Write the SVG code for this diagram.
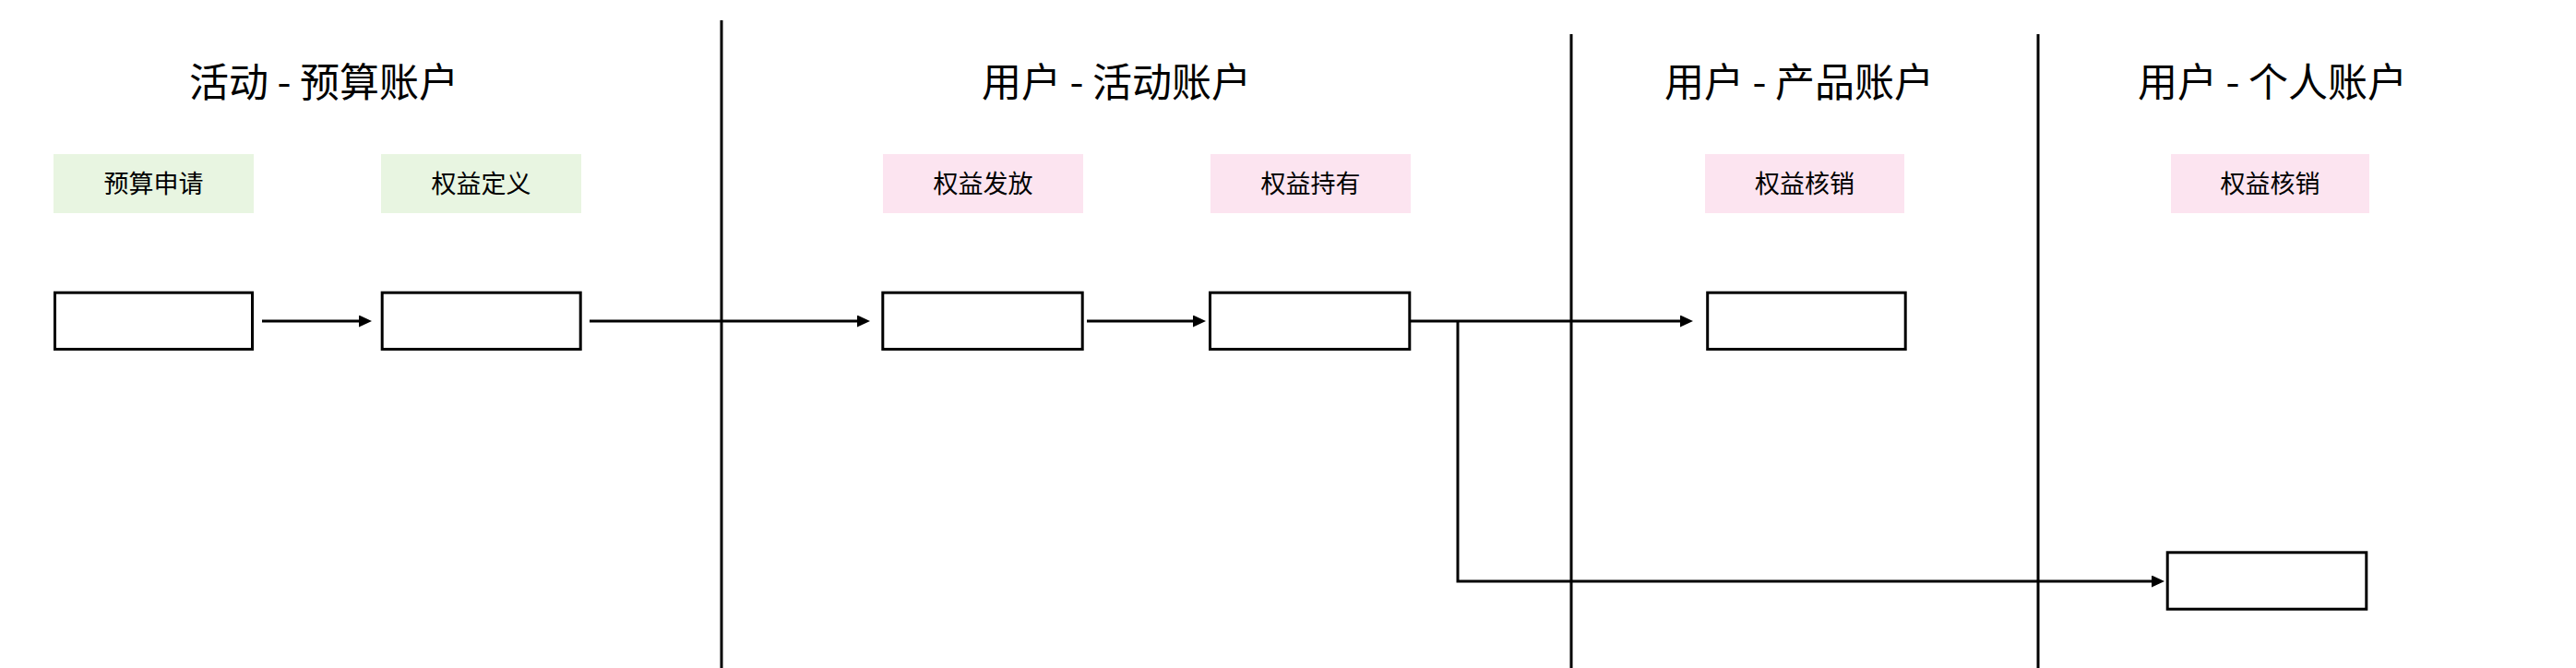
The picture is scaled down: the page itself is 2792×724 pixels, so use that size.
<svg xmlns="http://www.w3.org/2000/svg" width="2792" height="724" viewBox="0 0 2792 724">
<style>
.title{font-family:"Noto Sans CJK SC","Noto Sans",sans-serif;font-size:43px;fill:#000;text-anchor:middle;dominant-baseline:central}
.lbl{font-family:"Noto Sans CJK SC","Noto Sans",sans-serif;font-size:27px;fill:#000;text-anchor:middle;dominant-baseline:central}
.green{fill:#e8f5e1}
.pink{fill:#fce4f0}
.box{fill:#fff;stroke:#000;stroke-width:3}
.sep{stroke:#000;stroke-width:3}
.conn{fill:none;stroke:#000;stroke-width:3}
</style>
<defs>
<marker id="arr" markerUnits="userSpaceOnUse" markerWidth="14" markerHeight="13" refX="9" refY="6.5" orient="auto">
<path d="M0,0 L14,6.5 L0,13 z" fill="#000"/>
</marker>
</defs>
<rect width="2792" height="724" fill="#fff"/>
<g id="separators">
<line class="sep" x1="782" y1="22" x2="782" y2="724"/>
<line class="sep" x1="1703" y1="37" x2="1703" y2="724"/>
<line class="sep" x1="2209" y1="37" x2="2209" y2="724"/>
</g>
<g id="titles">
<text class="title" x="351" y="86">活动 - 预算账户</text>
<text class="title" x="1210" y="86">用户 - 活动账户</text>
<text class="title" x="1950" y="86">用户 - 产品账户</text>
<text class="title" x="2463" y="86">用户 - 个人账户</text>
</g>
<g id="label-budget-apply"><rect class="green" x="58" y="167" width="217" height="64"/><text class="lbl" x="166.5" y="197">预算申请</text></g>
<g id="label-rights-define"><rect class="green" x="413" y="167" width="217" height="64"/><text class="lbl" x="521.5" y="197">权益定义</text></g>
<g id="label-rights-issue"><rect class="pink" x="957" y="167" width="217" height="64"/><text class="lbl" x="1065.5" y="197">权益发放</text></g>
<g id="label-rights-hold"><rect class="pink" x="1312" y="167" width="217" height="64"/><text class="lbl" x="1420.5" y="197">权益持有</text></g>
<g id="label-rights-redeem-product"><rect class="pink" x="1848" y="167" width="216" height="64"/><text class="lbl" x="1956" y="197">权益核销</text></g>
<g id="label-rights-redeem-personal"><rect class="pink" x="2353" y="167" width="215" height="64"/><text class="lbl" x="2460.5" y="197">权益核销</text></g>
<g id="node1"><rect class="box" x="59.5" y="317.2" width="214" height="61.3"/></g>
<g id="node2"><rect class="box" x="414.2" y="317.2" width="215" height="61.3"/></g>
<g id="node3"><rect class="box" x="956.8" y="317.2" width="216.4" height="61.3"/></g>
<g id="node4"><rect class="box" x="1311.5" y="317.2" width="216.3" height="61.3"/></g>
<g id="node5"><rect class="box" x="1850.7" y="317.2" width="214.5" height="61.3"/></g>
<g id="node6"><rect class="box" x="2349.2" y="598.8" width="215.6" height="61.4"/></g>
<g id="connectors">
<path class="conn" d="M284 348 H398" marker-end="url(#arr)"/>
<path class="conn" d="M639 348 H938" marker-end="url(#arr)"/>
<path class="conn" d="M1178 348 H1302" marker-end="url(#arr)"/>
<path class="conn" d="M1529 348 H1830" marker-end="url(#arr)"/>
<path class="conn" d="M1580 348 V630 H2341" marker-end="url(#arr)"/>
</g>
</svg>
